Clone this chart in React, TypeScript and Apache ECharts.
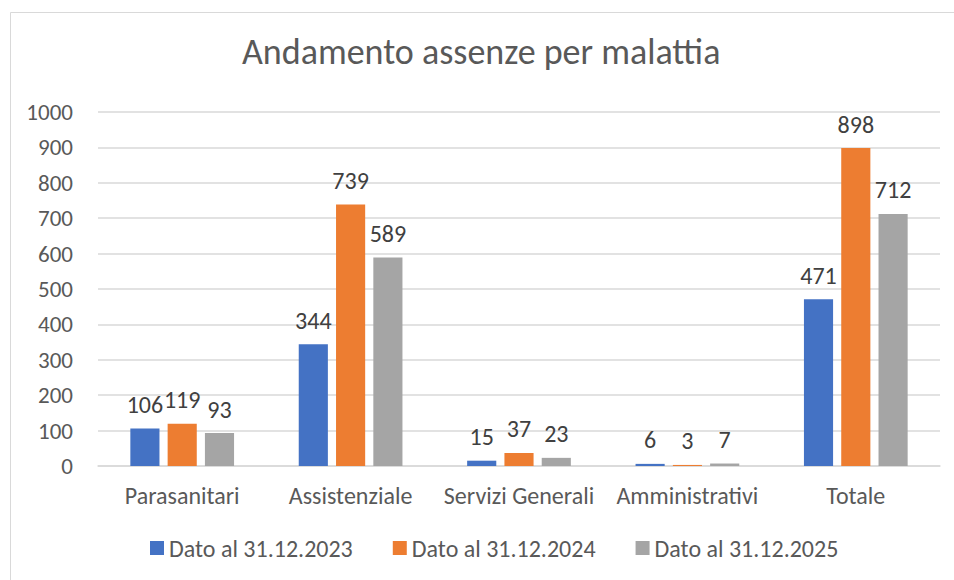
import React, { useEffect, useRef } from "react";
import * as echarts from "echarts";

const categories = ["Parasanitari", "Assistenziale", "Servizi Generali", "Amministrativi", "Totale"];
const seriesNames = ["Dato al 31.12.2023", "Dato al 31.12.2024", "Dato al 31.12.2025"];
const values2023 = [106, 344, 15, 6, 471];
const values2024 = [119, 739, 37, 3, 898];
const values2025 = [93, 589, 23, 7, 712];
const colors = ["#4472C4", "#ED7D31", "#A5A5A5"];

const FONT = "Carlito, Calibri, 'Open Sans', sans-serif";

export default function App() {
  const ref = useRef<HTMLDivElement>(null);
  useEffect(() => {
    if (!ref.current) return;
    const chart = echarts.init(ref.current, null, { renderer: "svg" });
    const data = [values2023, values2024, values2025];
    chart.setOption({
      animation: false,
      backgroundColor: "#ffffff",
      textStyle: { fontFamily: FONT },
      title: {
        text: "Andamento assenze per malattia",
        left: 242,
        top: 34,
        padding: 0,
        textStyle: { fontFamily: FONT, fontSize: 36, fontWeight: "normal", color: "#595959" },
      },
      graphic: [
        {
          type: "rect",
          shape: { x: 10.5, y: 12.5, width: 980, height: 620 },
          style: { fill: "none", stroke: "#d9d9d9", lineWidth: 1 },
          silent: true,
        },
      ],
      legend: {
        top: 536,
        left: 150,
        padding: 0,
        itemWidth: 14,
        itemHeight: 14,
        itemGap: 40,
        icon: "rect",
        textStyle: { fontFamily: FONT, fontSize: 24, color: "#595959" },
        data: seriesNames,
      },
      grid: { left: 98, right: 14, top: 112, bottom: 114, containLabel: false },
      xAxis: {
        type: "category",
        data: categories,
        axisTick: { show: false },
        axisLine: { lineStyle: { color: "#d9d9d9", width: 1.5 } },
        axisLabel: { fontFamily: FONT, fontSize: 24, color: "#595959", margin: 17, interval: 0 },
      },
      yAxis: {
        type: "value",
        min: 0,
        max: 1000,
        interval: 100,
        axisLine: { show: false },
        axisTick: { show: false },
        splitLine: { lineStyle: { color: "#d9d9d9", width: 1.5 } },
        axisLabel: {
          fontFamily: FONT,
          fontSize: 23,
          color: "#595959",
          margin: 25,
          formatter: (v: number) => String(v),
        },
      },
      series: seriesNames.map((name, i) => ({
        name,
        type: "bar",
        data: data[i],
        barWidth: "17.3%",
        barGap: "28%",
        itemStyle: { color: colors[i] },
        label: {
          show: true,
          position: "top",
          distance: 12,
          fontFamily: FONT,
          fontSize: 24,
          color: "#404040",
        },
      })),
    });
    return () => chart.dispose();
  }, []);
  return (
    <div
      ref={ref}
      style={{ position: "fixed", left: 0, top: 0, width: 954, height: 580 }}
    />
  );
}
